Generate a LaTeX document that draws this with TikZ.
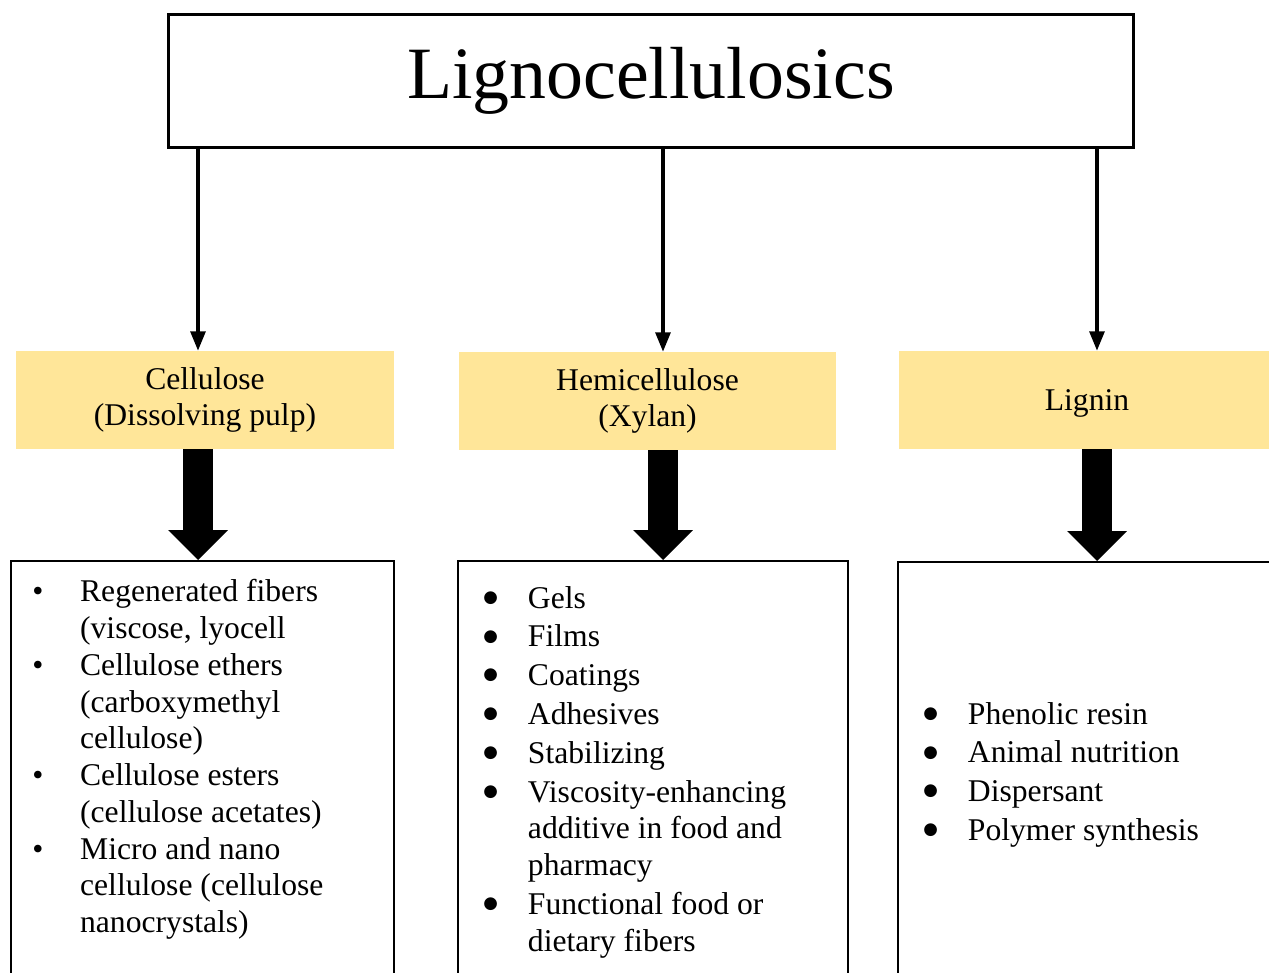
\documentclass[tikz,border=0pt]{standalone}
\usepackage{fontspec}
\setmainfont{Liberation Serif}
\newfontfamily\dejavu{DejaVu Sans}
\usetikzlibrary{arrows.meta}
\definecolor{headyellow}{HTML}{FFE699}
\newcommand{\bigbul}{\raisebox{3.3pt}{\dejavu\fontsize{9.5}{10}\selectfont ●}}
\begin{document}
\begin{tikzpicture}[x=0.02cm, y=-0.02cm,
		titlebox/.style={draw, line width=1.7pt, minimum width=19.32cm, minimum height=2.68cm, font=\fontsize{42}{48}\selectfont},
		headbox/.style={fill=headyellow, minimum height=1.96cm, align=center, inner sep=0pt, font=\fontsize{18}{20.9}\selectfont},
		listbox/.style={draw, line width=1.4pt, minimum height=10cm},
		listtext/.style={anchor=base west, inner sep=0pt, font=\fontsize{18}{20.9}\selectfont},
		thinarrow/.style={line width=1.8pt, -{Triangle[width=8.5pt,length=11pt]}},
		fatarrow/.style={line width=17pt, -{Triangle[width=34pt,length=17pt,line width=0pt]}}]
	\useasboundingbox (0,0) rectangle (1269,973);
	\clip (0,0) rectangle (1269,973);
	
	% 总标题
	\node[titlebox] (title) at (651,81) {Lignocellulosics};
	
	% 三个组分
	\node[headbox, minimum width=7.56cm] (cell) at (205,400) {Cellulose\\(Dissolving pulp)};
	\node[headbox, minimum width=7.54cm] (hemi) at (647.5,401) {Hemicellulose\\(Xylan)};
	\node[headbox, minimum width=7.52cm, text depth=0pt] (lig) at (1087,400) {Lignin};
	
	% 应用框
	\node[listbox, minimum width=7.66cm, anchor=north] (cellapp) at (202.5,560) {};
	\node[listbox, minimum width=7.8cm, anchor=north] (hemiapp) at (653,560) {};
	\node[listbox, minimum width=7.84cm, anchor=north] (ligapp) at (1094,561) {};
	
	% 箭头位置
	\coordinate (c1) at (198,0);
	\coordinate (c2) at (663,0);
	\coordinate (c3) at (1097,0);
	
	\draw[thinarrow] (title.south -| c1) -- (cell.north -| c1);
	\draw[thinarrow] (title.south -| c2) -- (hemi.north -| c2);
	\draw[thinarrow] (title.south -| c3) -- (lig.north -| c3);
	
	\draw[fatarrow] (cell.south -| c1) -- (cellapp.north -| c1);
	\draw[fatarrow] (hemi.south -| c2) -- (hemiapp.north -| c2);
	\draw[fatarrow] (lig.south -| c3) -- (ligapp.north -| c3);
	
	% 列表
	\node[listtext] (celllist) at (32,602) {\begin{tabular}[t]{@{}p{27.2pt}@{}l@{}}
		\textbullet & Regenerated fibers\\
		& (viscose, lyocell\\
		\textbullet & Cellulose ethers\\
		& (carboxymethyl\\
		& cellulose)\\
		\textbullet & Cellulose esters\\
		& (cellulose acetates)\\
		\textbullet & Micro and nano\\
		& cellulose (cellulose\\
		& nanocrystals)
	\end{tabular}};
	
	\node[listtext] (hemilist) at (483,608) {\begin{tabular}[t]{@{}p{25.4pt}@{}l@{}}
		\bigbul & Gels\\[1.2pt]
		\bigbul & Films\\[1.2pt]
		\bigbul & Coatings\\[1.2pt]
		\bigbul & Adhesives\\[1.2pt]
		\bigbul & Stabilizing\\[1.2pt]
		\bigbul & Viscosity-enhancing\\
		& additive in food and\\
		& pharmacy\\[1.2pt]
		\bigbul & Functional food or\\
		& dietary fibers
	\end{tabular}};
	
	\node[listtext] (liglist) at (923,724) {\begin{tabular}[t]{@{}p{25.4pt}@{}l@{}}
		\bigbul & Phenolic resin\\[1.2pt]
		\bigbul & Animal nutrition\\[1.2pt]
		\bigbul & Dispersant\\[1.2pt]
		\bigbul & Polymer synthesis
	\end{tabular}};
\end{tikzpicture}
\end{document}
